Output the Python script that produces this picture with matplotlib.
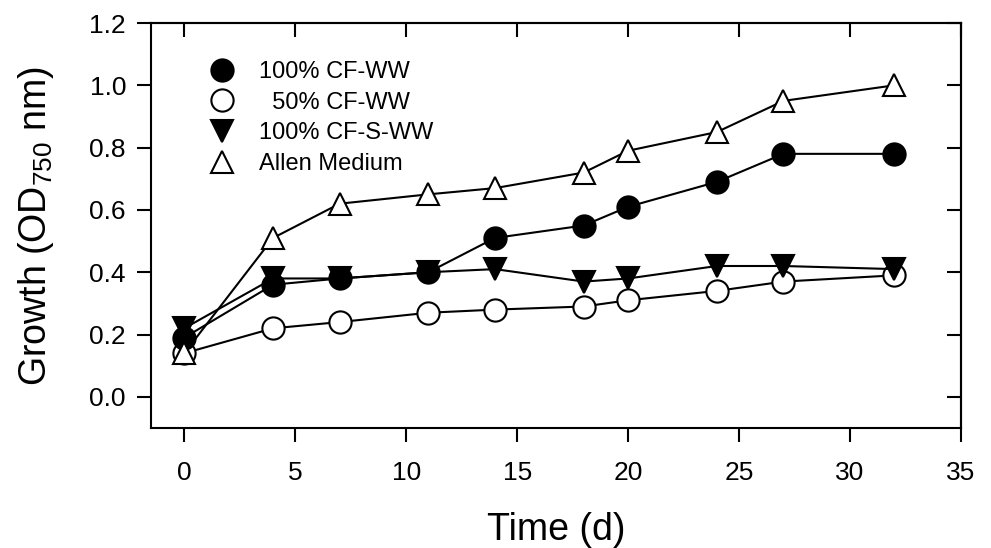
import matplotlib
matplotlib.use("Agg")
import matplotlib.pyplot as plt
from matplotlib.lines import Line2D

plt.rcParams['font.family'] = ['Liberation Sans', 'DejaVu Sans']
plt.rcParams['mathtext.fontset'] = 'custom'
plt.rcParams['mathtext.rm'] = 'Liberation Sans'
plt.rcParams['mathtext.it'] = 'Liberation Sans:italic'

days = [0, 4, 7, 11, 14, 18, 20, 24, 27, 32]
cf100 = [0.19, 0.36, 0.38, 0.40, 0.51, 0.55, 0.61, 0.69, 0.78, 0.78]
cf50 = [0.14, 0.22, 0.24, 0.27, 0.28, 0.29, 0.31, 0.34, 0.37, 0.39]
cfs100 = [0.22, 0.38, 0.38, 0.40, 0.41, 0.37, 0.38, 0.42, 0.42, 0.41]
allen = [0.14, 0.51, 0.62, 0.65, 0.67, 0.72, 0.79, 0.85, 0.95, 1.00]

labels = ['100% CF-WW', '  50% CF-WW', '100% CF-S-WW', 'Allen Medium']
xticks = [0, 5, 10, 15, 20, 25, 30, 35]
yticks = [0.0, 0.2, 0.4, 0.6, 0.8, 1.0, 1.2]

fig = plt.figure(figsize=(9.91, 5.48), dpi=100)
ax = fig.add_axes([151/991, 1 - 428/548, 810/991, 405/548])

ms = 16
mew = 1.5
lw = 1.5
styles = {
    'cf100': dict(marker='o', mfc='black', mec='black'),
    'cf50': dict(marker='o', mfc='white', mec='black'),
    'cfs100': dict(marker='v', mfc='black', mec='black'),
    'allen': dict(marker='^', mfc='white', mec='black'),
}
ax.plot(days, cf50, color='black', lw=lw, ms=ms, mew=mew, zorder=2, **styles['cf50'])
ax.plot(days, cfs100, color='black', lw=lw, ms=ms, mew=mew, zorder=3, **styles['cfs100'])
ax.plot(days, cf100, color='black', lw=lw, ms=ms, mew=mew, zorder=4, **styles['cf100'])
ax.plot(days, allen, color='black', lw=lw, ms=ms, mew=mew, zorder=5, **styles['allen'])

handles = [Line2D([], [], linestyle='none', ms=ms, mew=mew, **styles[k])
           for k in ['cf100', 'cf50', 'cfs100', 'allen']]
leg = ax.legend(handles, labels, loc='upper left', bbox_to_anchor=(0.058, 0.93),
                frameon=False, fontsize=17, handlelength=1.2, handletextpad=1.0,
                labelspacing=0.37, borderaxespad=0)

ax.set_xlim(-1.5, 35)
ax.set_ylim(-0.1, 1.2)
ax.set_xticks(xticks)
ax.set_yticks(yticks)
ax.set_yticklabels([f'{v:.1f}' for v in yticks])
ax.tick_params(axis='both', which='major', labelsize=19, width=1.5, length=10, pad=8)
ax.tick_params(axis='x', pad=14)
ax.tick_params(axis='x', which='major', direction='out', top=False)
ax.tick_params(axis='y', which='major', direction='out', right=False)

# inward ticks on top and right
secx = ax.secondary_xaxis('top')
secx.set_xticks(xticks)
secx.tick_params(direction='in', length=10, width=1.5, labeltop=False)
secy = ax.secondary_yaxis('right')
secy.set_yticks(yticks)
secy.tick_params(direction='in', length=10, width=1.5, labelright=False)
for s in secx.spines.values():
    s.set_linewidth(1.5)
for s in secy.spines.values():
    s.set_linewidth(1.5)
for s in ax.spines.values():
    s.set_linewidth(1.5)

ax.set_xlabel('Time (d)', fontsize=27, labelpad=19)
ax.set_ylabel('Growth (OD$_{750}$ nm)', fontsize=27, labelpad=24)

fig.savefig('out.png', dpi=100)
